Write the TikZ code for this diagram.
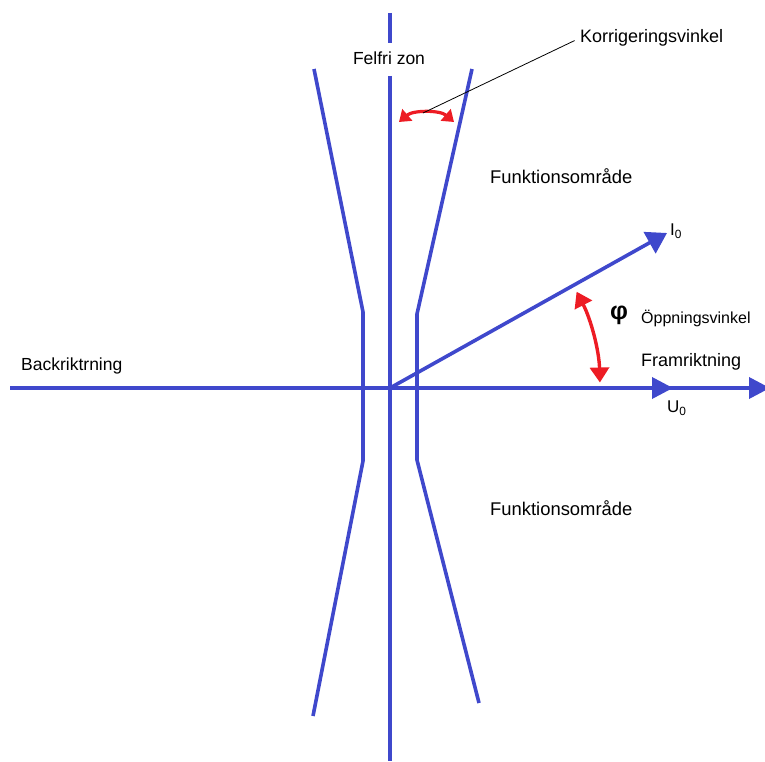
\documentclass[tikz,border=0pt]{standalone}
\usepackage{fontspec}
\setmainfont{Liberation Sans}
\usetikzlibrary{arrows.meta,calc}
\definecolor{pblue}{RGB}{63,72,204}
\definecolor{pred}{RGB}{237,28,36}
\tikzset{
  axis/.style={draw=pblue,line width=3.6pt},
  bluetip/.style={-{Triangle[length=21pt,width=21pt]}},
  redarc/.style={draw=pred,line width=3.4pt,{Triangle[length=15pt,width=19pt]}-{Triangle[length=15pt,width=19pt]}},
  redarcsmall/.style={draw=pred,line width=3.2pt,{Triangle[length=11pt,width=15pt]}-{Triangle[length=11pt,width=15pt]}},
  lbl/.style={inner sep=0pt,font=\fontsize{18}{21}\selectfont},
}
\begin{document}
\begin{tikzpicture}[x=1pt,y=1pt]
\useasboundingbox (0,0) rectangle (765,761);
% coordinates (pixel x, 761 - pixel y)
\coordinate (O) at (390,373);
\coordinate (vtop) at (390,748);
\coordinate (vgapT) at (390,718);
\coordinate (vgapB) at (390,685);
\coordinate (vbot) at (390,0);
\coordinate (hleft) at (10,373);
\coordinate (hright) at (770,373);
\coordinate (u0tip) at (673,373);
\coordinate (i0tip) at (667,528);
% boundaries
\coordinate (L1) at (314,692);
\coordinate (L2) at (363,449);
\coordinate (L3) at (363,300);
\coordinate (L4) at (313,45);
\coordinate (R1) at (472,692);
\coordinate (R2) at (417,447);
\coordinate (R3) at (417,301);
\coordinate (R4) at (479,58);
% axes
\draw[axis] (vtop) -- (vgapT);
\draw[axis] (vgapB) -- (vbot);
\draw[axis,bluetip] (hleft) -- (hright);
\draw[axis,bluetip] (O) -- (u0tip);
\draw[axis,-{Triangle[length=20pt,width=24pt]}] (O) -- (i0tip);
\draw[axis,line join=round] (L1) -- (L2) -- (L3) -- (L4);
\draw[axis,line join=round] (R1) -- (R2) -- (R3) -- (R4);
% red arcs
\coordinate (kA) at (399,639);
\coordinate (kB) at (454,639);
\draw[redarcsmall] (kA) .. controls (413,651) and (440,651) .. (kB);
\coordinate (pA) at ($(O)+(1.5:210)$);
\draw[redarc] (pA) arc[start angle=1.5,end angle=27.3,radius=210];
% leader
\coordinate (kl) at (423,648);
\node[lbl,anchor=west] (korr) at (580,723) {Korrigeringsvinkel};
\draw[black,line width=0.8pt,shorten >=6pt] (kl) -- (korr.west);
% labels
\node[lbl,font=\fontsize{17.5}{20}\selectfont] (felfri) at (389,703) {Felfri zon};
\node[lbl,anchor=west,font=\fontsize{18.4}{21}\selectfont] (fu1) at (490,585) {Funktionsområde};
\node[lbl,anchor=west,font=\fontsize{18.4}{21}\selectfont] (fu2) at (490,253) {Funktionsområde};
\node[lbl,anchor=west,font=\fontsize{17.5}{20}\selectfont] (back) at (21,395) {Backriktrning};
\node[lbl,anchor=west] (fram) at (641,399) {Framriktning};
\node[inner sep=0pt,anchor=west,font=\fontsize{16}{18}\selectfont] (opp) at (641,443) {Öppningsvinkel};
\node[inner sep=0pt,font=\fontsize{25}{28}\selectfont\bfseries] (phi) at (619,446) {φ};
\node[inner sep=0pt,anchor=west,font=\fontsize{17}{20}\selectfont] (i0) at (670,530) {I\textsubscript{0}};
\node[inner sep=0pt,anchor=west,font=\fontsize{17}{20}\selectfont] (u0) at (667,353) {U\textsubscript{0}};
\end{tikzpicture}
\end{document}
